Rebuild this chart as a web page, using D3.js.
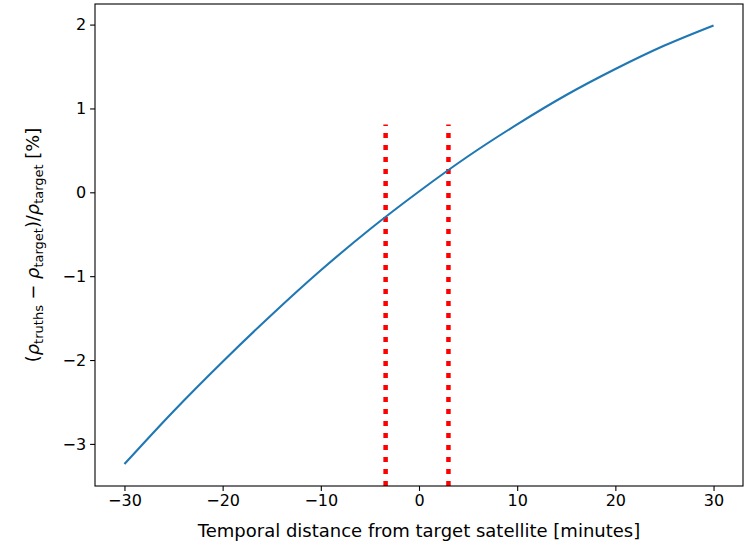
<!DOCTYPE html>
<html>
<head>
<meta charset="utf-8">
<script src="https://cdn.jsdelivr.net/npm/d3@7"></script>
<style>
  body { margin: 0; background: #fff; }
  text { font-family: "DejaVu Sans", sans-serif; fill: #000; }
</style>
</head>
<body>
<div id="chart"></div>
<script>
// values
var minutes = [-30, -25, -20, -15, -10, -5, 0, 5, 10, 15, 20, 25, 30]
var diffPct = [-3.24, -2.61, -2.02, -1.46, -0.93, -0.44, 0.01, 0.43, 0.81, 1.16, 1.47, 1.75, 1.99]
var markers = [-3.4, 3.0]
var xTicks = [-30, -20, -10, 0, 10, 20, 30]
var yTicks = [-3, -2, -1, 0, 1, 2]

var W = 746, H = 547
var margin = {top: 4, right: 3, bottom: 61, left: 95}
var w = W - margin.left - margin.right,
  h = H - margin.top - margin.bottom

var svg = d3.select('#chart').append('svg')
  .attr('width', W)
  .attr('height', H)

var g = svg.append('g')
  .attr('transform', 'translate(' + margin.left + ',' + margin.top + ')')

var x = d3.scaleLinear().domain([-33, 33]).range([0, w])
var y = d3.scaleLinear().domain([-3.502, 2.2455]).range([h, 0])

var fmt = function(d) { return d < 0 ? '\u2212' + Math.abs(d) : '' + d }

// vertical marker lines, 75% of axes height
g.selectAll('.marker')
  .data(markers)
  .enter().append('line')
  .attr('class', 'marker')
  .attr('x1', d => x(d))
  .attr('x2', d => x(d))
  .attr('y1', h)
  .attr('y2', h * 0.25)
  .style('stroke', '#ff0000')
  .style('stroke-width', 4.5)
  .style('stroke-dasharray', '5,7')

var line = d3.line()
  .x((d, i) => x(minutes[i]))
  .y(d => y(d))
  .curve(d3.curveCatmullRom)

g.append('path')
  .datum(diffPct)
  .attr('d', line)
  .style('fill', 'none')
  .style('stroke', '#1f77b4')
  .style('stroke-width', 2.1)

var xAxis = g.append('g')
  .attr('transform', 'translate(0,' + h + ')')
  .call(d3.axisBottom(x).tickValues(xTicks).tickFormat(fmt).tickSize(4.9).tickPadding(4))

var yAxis = g.append('g')
  .call(d3.axisLeft(y).tickValues(yTicks).tickFormat(fmt).tickSize(4.9).tickPadding(4))

;[xAxis, yAxis].forEach(function(a) {
  a.select('.domain').remove()
  a.selectAll('line').style('stroke', '#000').style('stroke-width', 1.1)
  a.selectAll('text').style('font-size', '16px').style('font-family', '"DejaVu Sans", sans-serif')
})

// frame
g.append('rect')
  .attr('width', w)
  .attr('height', h)
  .style('fill', 'none')
  .style('stroke', '#000')
  .style('stroke-width', 1.1)

svg.append('text')
  .attr('x', margin.left + w / 2)
  .attr('y', 537)
  .attr('text-anchor', 'middle')
  .style('font-size', '18px')
  .text('Temporal distance from target satellite [minutes]')

// y label with subscripts
var yl = svg.append('text')
  .attr('transform', 'translate(39,' + (margin.top + h / 2) + ') rotate(-90)')
  .attr('text-anchor', 'middle')
  .style('font-size', '17.8px')

var parts = [
  ['(', 0, null], ['\u03c1', 0, 'i'], ['truths', 1, null], [' \u2212 ', 0, null],
  ['\u03c1', 0, 'i'], ['target', 1, null], [')/', 0, null],
  ['\u03c1', 0, 'i'], ['target', 1, null], [' [%]', 0, null]
]
var level = 0
parts.forEach(function(p) {
  var t = yl.append('tspan').text(p[0])
  var dy = (p[1] - level) * 4.3
  if (dy) t.attr('dy', dy)
  level = p[1]
  if (p[1]) t.style('font-size', '13px')
  if (p[2]) t.style('font-style', 'italic')
})
</script>
</body>
</html>
